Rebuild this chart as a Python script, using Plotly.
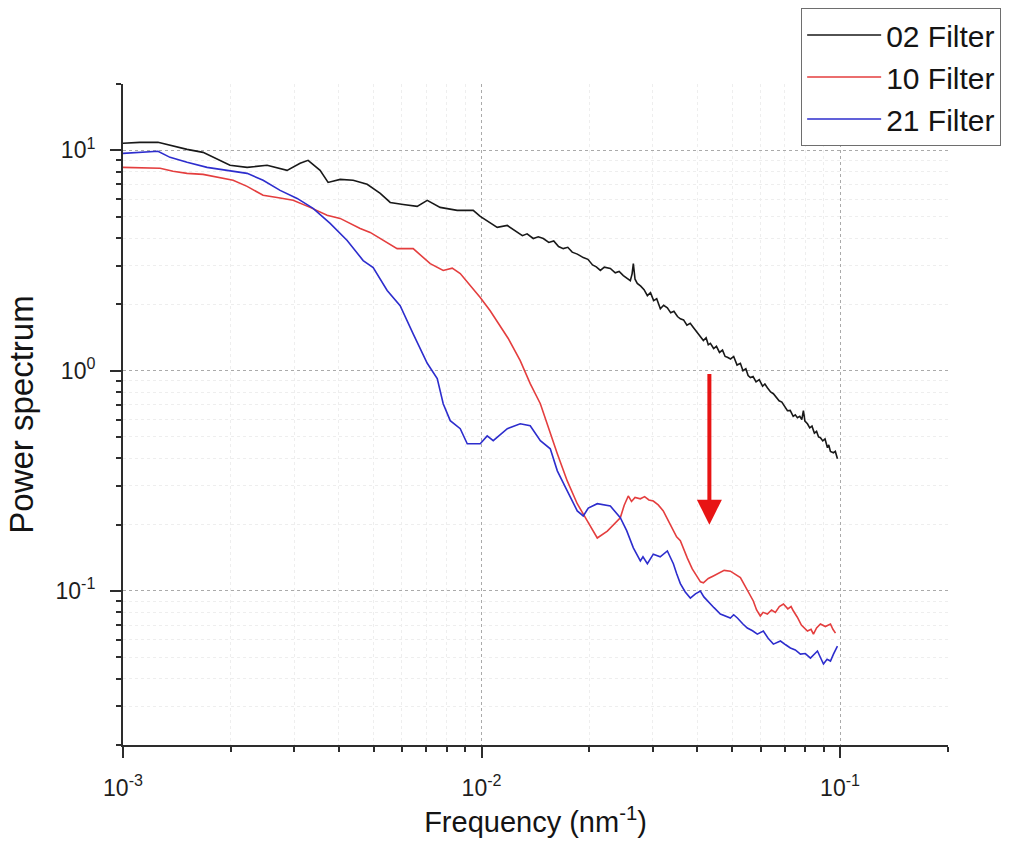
import math
import plotly.graph_objects as go

# Power spectra of the three filtered surfaces (frequency in nm^-1)
freq_02 = [0.001000, 0.001115, 0.001252, 0.001509, 0.001672, 0.001988, 0.002219, 0.002523,
           0.002868, 0.003119, 0.003283, 0.003546, 0.003733, 0.004033, 0.004384, 0.004797,
           0.005218, 0.005563, 0.006046, 0.006614, 0.007056, 0.007665, 0.008554, 0.009480,
           0.009917, 0.01106, 0.01180, 0.01258, 0.01300, 0.01340, 0.01394, 0.01440, 0.01487,
           0.01540, 0.01590, 0.01640, 0.01690, 0.01740, 0.01790, 0.01850, 0.01922, 0.01980,
           0.02040, 0.02090, 0.02145, 0.02200, 0.02287, 0.02360, 0.02420, 0.02486, 0.02540,
           0.02600, 0.02630, 0.02651, 0.02680, 0.02719, 0.02780, 0.02840, 0.02901, 0.02960,
           0.03020, 0.03080, 0.03153, 0.03220, 0.03298, 0.03370, 0.03440, 0.03520, 0.03585,
           0.03660, 0.03740, 0.03820, 0.03898, 0.03980, 0.04060, 0.04157, 0.04230, 0.04290,
           0.04348, 0.04440, 0.04520, 0.04610, 0.04700, 0.04780, 0.04850, 0.04950, 0.05050,
           0.05160, 0.05272, 0.05360, 0.05460, 0.05540, 0.05622, 0.05720, 0.05830, 0.05950,
           0.06080, 0.06170, 0.06270, 0.06400, 0.06516, 0.06640, 0.06760, 0.06880, 0.07000,
           0.07132, 0.07260, 0.07400, 0.07500, 0.07604, 0.07720, 0.07820, 0.07902, 0.07980,
           0.08110, 0.08230, 0.08350, 0.08480, 0.08600, 0.08710, 0.08815, 0.08950, 0.09080,
           0.09222, 0.09300, 0.09400, 0.09585, 0.09700, 0.09833]
power_02 = [10.76, 10.87, 10.87, 10.1, 9.79, 8.55, 8.37, 8.55,
            8.11, 8.73, 9.01, 8.11, 7.15, 7.38, 7.31, 7.01,
            6.38, 5.80, 5.68, 5.57, 5.93, 5.51, 5.34, 5.34,
            5.01, 4.47, 4.56, 4.24, 4.10, 4.18, 3.98, 4.05, 3.98,
            3.82, 3.88, 3.66, 3.58, 3.63, 3.45, 3.38, 3.26, 3.20,
            3.02, 2.96, 2.85, 2.95, 2.91, 2.78, 2.82, 2.70, 2.62,
            2.56, 2.75, 3.06, 2.60, 2.49, 2.42, 2.33, 2.19, 2.26,
            2.08, 2.12, 1.91, 1.98, 1.93, 1.83, 1.86, 1.76, 1.72,
            1.70, 1.61, 1.64, 1.57, 1.50, 1.45, 1.37, 1.41, 1.31,
            1.33, 1.26, 1.29, 1.21, 1.24, 1.16, 1.15, 1.13, 1.16,
            1.06, 1.08, 1.00, 1.02, 0.95, 0.93, 0.94, 0.89, 0.91,
            0.85, 0.87, 0.837, 0.80, 0.786, 0.76, 0.73, 0.72, 0.69,
            0.658, 0.66, 0.62, 0.63, 0.612, 0.62, 0.60, 0.658, 0.59,
            0.574, 0.55, 0.56, 0.52, 0.53, 0.50, 0.496, 0.48, 0.49,
            0.447, 0.46, 0.43, 0.424, 0.43, 0.398]

freq_10 = [0.001000, 0.001269, 0.001379, 0.001509, 0.001672, 0.001865, 0.002028, 0.002219,
           0.002459, 0.002690, 0.002982, 0.003325, 0.003709, 0.004033, 0.004587, 0.004891,
           0.005218, 0.005815, 0.006447, 0.007193, 0.007818, 0.008285, 0.008722, 0.009301,
           0.009917, 0.01057, 0.01127, 0.01187, 0.01282, 0.01367, 0.01459, 0.01555, 0.01627,
           0.01734, 0.01849, 0.01972, 0.02103, 0.02243, 0.02438, 0.02500, 0.02566, 0.02620,
           0.02680, 0.02773, 0.02850, 0.02930, 0.03014, 0.03110, 0.03213, 0.03320, 0.03428,
           0.03500, 0.03585, 0.03670, 0.03750, 0.03870, 0.03999, 0.04080, 0.04157, 0.04290,
           0.04432, 0.04600, 0.04750, 0.04943, 0.05100, 0.05272, 0.05420, 0.05580, 0.05728,
           0.05850, 0.05992, 0.06100, 0.06270, 0.06440, 0.06600, 0.06770, 0.06952, 0.07150,
           0.07300, 0.07411, 0.07600, 0.07800, 0.08110, 0.08300, 0.08428, 0.08600, 0.08815,
           0.09100, 0.09402, 0.09550, 0.09710]
power_10 = [8.37, 8.29, 8.03, 7.86, 7.78, 7.54, 7.31, 6.86,
            6.25, 6.11, 5.93, 5.51, 5.07, 4.91, 4.42, 4.24,
            3.98, 3.58, 3.58, 3.06, 2.85, 2.92, 2.76, 2.43,
            2.15, 1.87, 1.60, 1.40, 1.11, 0.873, 0.708, 0.517, 0.420,
            0.316, 0.249, 0.208, 0.174, 0.187, 0.215, 0.245, 0.270, 0.255,
            0.266, 0.262, 0.268, 0.259, 0.256, 0.246, 0.231, 0.208, 0.187,
            0.176, 0.169, 0.152, 0.141, 0.126, 0.115, 0.110, 0.109, 0.114,
            0.117, 0.121, 0.124, 0.123, 0.119, 0.115, 0.106, 0.097, 0.0901,
            0.082, 0.0770, 0.0800, 0.0786, 0.0820, 0.0800, 0.0850, 0.0873, 0.0830,
            0.0850, 0.0811, 0.0760, 0.0700, 0.0658, 0.0670, 0.0637, 0.0680, 0.0708,
            0.0690, 0.0708, 0.0670, 0.0644]

freq_21 = [0.001000, 0.001115, 0.001252, 0.001353, 0.001509, 0.001716, 0.001988, 0.002219,
           0.002459, 0.002743, 0.003060, 0.003390, 0.003782, 0.004219, 0.004676, 0.004986,
           0.005455, 0.005929, 0.006447, 0.007056, 0.007524, 0.007818, 0.008179, 0.008722,
           0.009123, 0.009917, 0.01037, 0.01078, 0.01180, 0.01282, 0.01367, 0.01459, 0.01555,
           0.01627, 0.01734, 0.01849, 0.01922, 0.01985, 0.02103, 0.02287, 0.02438, 0.02540,
           0.02651, 0.02773, 0.02820, 0.02901, 0.03014, 0.03150, 0.03298, 0.03428, 0.03500,
           0.03585, 0.03700, 0.03823, 0.03950, 0.04077, 0.04170, 0.04265, 0.04450, 0.04636,
           0.04800, 0.04943, 0.05050, 0.05171, 0.05350, 0.05512, 0.05700, 0.05878, 0.06109,
           0.06300, 0.06516, 0.06819, 0.07050, 0.07269, 0.07500, 0.07752, 0.08000, 0.08268,
           0.08648, 0.08800, 0.08988, 0.09200, 0.09402, 0.09585, 0.09833]
power_21 = [9.69, 9.79, 9.90, 9.29, 8.82, 8.37, 8.11, 7.86,
            7.31, 6.58, 6.05, 5.45, 4.66, 3.90, 3.16, 2.94,
            2.31, 1.97, 1.47, 1.08, 0.920, 0.708, 0.593, 0.545,
            0.466, 0.466, 0.506, 0.481, 0.545, 0.574, 0.562, 0.481, 0.442,
            0.351, 0.285, 0.231, 0.219, 0.238, 0.249, 0.243, 0.215, 0.188,
            0.157, 0.137, 0.143, 0.133, 0.147, 0.143, 0.152, 0.133, 0.120,
            0.108, 0.099, 0.0929, 0.097, 0.100, 0.094, 0.0901, 0.084, 0.0786,
            0.077, 0.0754, 0.078, 0.0754, 0.071, 0.0679, 0.066, 0.0637, 0.0658,
            0.061, 0.0574, 0.0593, 0.057, 0.0551, 0.054, 0.0517, 0.052, 0.0496,
            0.0534, 0.050, 0.0466, 0.049, 0.0481, 0.0517, 0.0562]

series_names = ["02 Filter", "10 Filter", "21 Filter"]
series_colors = ["rgb(25,25,25)", "rgb(228,62,62)", "rgb(45,45,205)"]

# axis ticks
x_major = [0.001, 0.01, 0.1]
x_major_text = ["10<sup>-3</sup>", "10<sup>-2</sup>", "10<sup>-1</sup>"]
x_minor = [0.002, 0.003, 0.004, 0.005, 0.006, 0.007, 0.008, 0.009,
           0.02, 0.03, 0.04, 0.05, 0.06, 0.07, 0.08, 0.09, 0.2]
y_major = [0.1, 1, 10]
y_major_text = ["10<sup>-1</sup>", "10<sup>0</sup>", "10<sup>1</sup>"]
y_minor = [0.02, 0.03, 0.04, 0.05, 0.06, 0.07, 0.08, 0.09,
           0.2, 0.3, 0.4, 0.5, 0.6, 0.7, 0.8, 0.9,
           2, 3, 4, 5, 6, 7, 8, 9, 20]

# red arrow marking the drop of the spectrum
arrow_freq = 0.0432
arrow_from = 0.98
arrow_to = 0.20

FONT = "Liberation Sans, Arial, sans-serif"
AXIS_COLOR = "rgb(45,45,45)"

fig = go.Figure()
for name, color, fx, py in zip(series_names, series_colors,
                               [freq_02, freq_10, freq_21],
                               [power_02, power_10, power_21]):
    fig.add_trace(go.Scatter(x=fx, y=py, mode="lines", name=name,
                             legendgroup=name,
                             line=dict(color=color, width=1.6)))

common_axis = dict(
    type="log",
    showline=True, linecolor=AXIS_COLOR, linewidth=2, mirror=False,
    ticks="outside", ticklen=11, tickwidth=2, tickcolor=AXIS_COLOR,
    showgrid=True, gridcolor="rgb(170,170,170)", gridwidth=1, griddash="dot",
    zeroline=False,
    tickfont=dict(family=FONT, size=23, color="rgb(30,30,30)"),
    tickmode="array",
)

fig.update_xaxes(
    **common_axis,
    range=[-3, math.log10(0.2)],
    tickvals=x_major, ticktext=x_major_text,
    ticklabelstandoff=10,
    minor=dict(tickmode="array", tickvals=x_minor, ticks="outside", ticklen=5,
               tickwidth=2, tickcolor=AXIS_COLOR, showgrid=True,
               gridcolor="rgb(238,238,238)", gridwidth=1),
    title=dict(text="Frequency (nm<sup>-1</sup>)",
               font=dict(family=FONT, size=29, color="rgb(20,20,20)"),
               standoff=12),
)
fig.update_yaxes(
    **common_axis,
    range=[math.log10(0.02), math.log10(20)],
    tickvals=y_major, ticktext=y_major_text,
    ticklabelstandoff=10,
    minor=dict(tickmode="array", tickvals=y_minor, ticks="outside", ticklen=5,
               tickwidth=2, tickcolor=AXIS_COLOR, showgrid=True,
               gridcolor="rgb(238,238,238)", gridwidth=1),
    title=dict(text="Power spectrum",
               font=dict(family=FONT, size=33, color="rgb(20,20,20)"),
               standoff=12),
)

fig.add_annotation(
    x=math.log10(arrow_freq), y=math.log10(arrow_to),
    ax=math.log10(arrow_freq), ay=math.log10(arrow_from),
    xref="x", yref="y", axref="x", ayref="y",
    text="", showarrow=True, arrowhead=2, arrowsize=1.25, arrowwidth=4,
    arrowcolor="rgb(232,20,20)",
)

fig.update_layout(
    width=1021, height=844,
    margin=dict(l=123, r=73, t=84, b=99, autoexpand=False),
    paper_bgcolor="white", plot_bgcolor="white",
    showlegend=True,
    legend=dict(
        x=0.822, y=1.115, xanchor="left", yanchor="top",
        bordercolor="rgb(110,110,110)", borderwidth=1,
        bgcolor="white",
        font=dict(family=FONT, size=30, color="rgb(20,20,20)"),
        itemwidth=74, traceorder="grouped", tracegroupgap=0,
    ),
)

fig.write_html("out.html")
